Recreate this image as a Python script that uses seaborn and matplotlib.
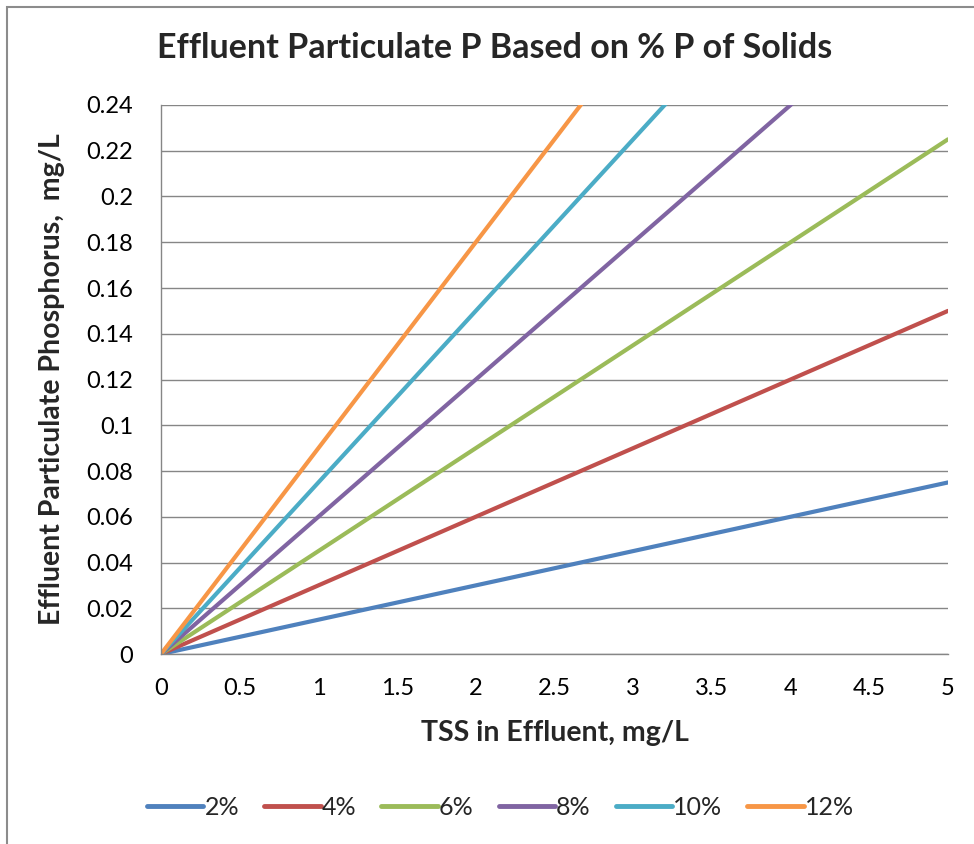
import pandas as pd
import numpy as np
import matplotlib.pyplot as plt
import seaborn as sns
from matplotlib.patches import Rectangle

# TSS in effluent (mg/L)
tss = [0, 1, 2, 3, 4, 5]

# particulate P (mg/L), per % P of solids
p_2 = [0, 0.015, 0.030, 0.045, 0.060, 0.075]
p_4 = [0, 0.030, 0.060, 0.090, 0.120, 0.150]
p_6 = [0, 0.045, 0.090, 0.135, 0.180, 0.225]
p_8 = [0, 0.060, 0.120, 0.180, 0.240, 0.300]
p_10 = [0, 0.075, 0.150, 0.225, 0.300, 0.375]
p_12 = [0, 0.090, 0.180, 0.270, 0.360, 0.450]

labels = ['2%', '4%', '6%', '8%', '10%', '12%']
colors = ['#4F81BD', '#C0504D', '#9BBB59', '#8064A2', '#4BACC6', '#F79646']

y_ticks = [0, 0.02, 0.04, 0.06, 0.08, 0.1, 0.12, 0.14, 0.16, 0.18, 0.2, 0.22, 0.24]
x_ticks = [0, 0.5, 1, 1.5, 2, 2.5, 3, 3.5, 4, 4.5, 5]


def main():
    sns.set_style('white')
    plt.rcParams['font.family'] = ['Lato', 'DejaVu Sans']

    rows = []
    for lab, series in zip(labels, [p_2, p_4, p_6, p_8, p_10, p_12]):
        for x, y in zip(tss, series):
            rows.append({'TSS': x, 'P': y, 'Pct': lab})
    df = pd.DataFrame(rows)

    fig = plt.figure(figsize=(9.74, 8.44), dpi=100)
    ax = fig.add_axes([0.1653, 0.2251, 0.808, 0.6505])

    # outer chart border (Excel style, cut at right/bottom)
    fig.patches.append(Rectangle((7 / 974, -0.1), 1.2, 1 - 7 / 844 + 0.1,
                                 transform=fig.transFigure, fill=False,
                                 edgecolor='#8c8c8c', linewidth=1.5))

    sns.lineplot(data=df, x='TSS', y='P', hue='Pct', hue_order=labels,
                 palette=colors, linewidth=3, ax=ax, legend=False,
                 solid_capstyle='round')

    ax.set_xlim(0, 5)
    ax.set_ylim(0, 0.24)
    ax.set_xticks(x_ticks)
    ax.set_xticklabels(['0', '0.5', '1', '1.5', '2', '2.5', '3', '3.5', '4', '4.5', '5'])
    ax.set_yticks(y_ticks)
    ax.set_yticklabels(['0', '0.02', '0.04', '0.06', '0.08', '0.1', '0.12', '0.14',
                        '0.16', '0.18', '0.2', '0.22', '0.24'])
    ax.grid(axis='y', color='#868686', linewidth=1)
    ax.set_axisbelow(True)
    for s in ['top', 'right']:
        ax.spines[s].set_visible(False)
    for s in ['left', 'bottom']:
        ax.spines[s].set_color('#868686')
        ax.spines[s].set_linewidth(1)
    ax.tick_params(axis='both', colors='#868686', labelcolor='black',
                   labelsize=17, length=8, width=1, direction='out')
    ax.tick_params(axis='x', pad=9)
    ax.tick_params(axis='y', pad=12)

    ax.set_xlabel('TSS in Effluent, mg/L', fontsize=20.5, fontweight='bold', va='center')
    ax.xaxis.set_label_coords(0.5, -0.144)
    ax.set_ylabel('Effluent Particulate Phosphorus,  mg/L', fontsize=20.5,
                  fontweight='bold', va='center')
    ax.yaxis.set_label_coords(-0.138, 0.5)
    fig.text(0.508, 0.943, 'Effluent Particulate P Based on % P of Solids',
             ha='center', va='center', fontsize=24.5, fontweight='bold')

    handles = [plt.Line2D([], [], color=c, linewidth=3.5, solid_capstyle='round')
               for c in colors]
    fig.legend(handles, labels, loc='center', bbox_to_anchor=(0.514, 0.043),
               ncol=6, frameon=False, fontsize=18, handlelength=2.25,
               handletextpad=0.05, columnspacing=1.0)

    fig.savefig('out.png', dpi=100)
    plt.close(fig)


if __name__ == "__main__":
    main()
